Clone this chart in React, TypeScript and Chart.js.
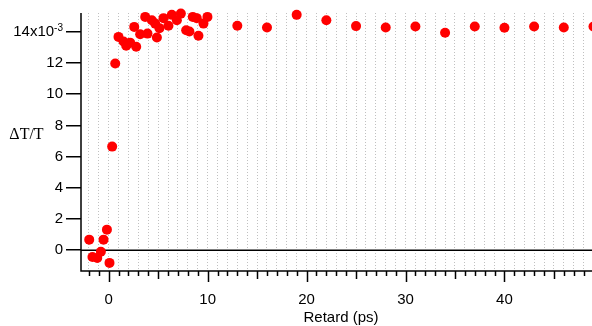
import React, { useEffect, useRef } from "react";
import { Chart, registerables } from "chart.js";

Chart.register(...registerables);

// Pump-probe delay (ps)
const delays = [
  -1.97, -1.64, -1.16, -0.79, -0.52, -0.18, 0.08, 0.35, 0.66, 0.99, 1.5, 1.77,
  2.17, 2.58, 2.78, 3.18, 3.69, 3.92, 4.36, 4.7, 4.87, 5.13, 5.54, 6.04, 6.38,
  6.89, 7.29, 7.83, 8.16, 8.5, 8.9, 9.07, 9.58, 9.98, 13, 16, 19, 22, 25, 28,
  31, 34, 37, 40, 43, 46, 49,
];
// ΔT/T in units of 1e-3
const dTT = [
  0.68, -0.43, -0.49, -0.1, 0.68, 1.32, -0.81, 6.64, 11.97, 13.67, 13.37, 13.1,
  13.3, 14.31, 13.04, 13.84, 14.95, 13.88, 14.74, 14.52, 13.63, 14.23, 14.87,
  14.38, 15.08, 14.74, 15.16, 14.1, 14.01, 14.95, 14.87, 13.74, 14.52, 14.95,
  14.38, 14.27, 15.08, 14.74, 14.36, 14.27, 14.33, 13.93, 14.33, 14.25, 14.33,
  14.27, 14.33,
];
const xLabelStep = 10;
const yTopTick = 14;
const yExponent = "-3";
const xTitle = "Retard (ps)";
const yTitle = "\u0394T/T";

const SANS = "'Liberation Sans', Arial, Helvetica, sans-serif";
const SERIF = "'Liberation Serif', 'Times New Roman', serif";

export default function App() {
  const ref = useRef<HTMLCanvasElement>(null);

  useEffect(() => {
    document.body.style.margin = "0";
    const igor = {
      id: "igor",
      beforeDatasetsDraw(chart: any) {
        const { ctx, chartArea, scales } = chart;
        const y0 = scales.y.getPixelForValue(0);
        ctx.save();
        ctx.strokeStyle = "#000";
        ctx.lineWidth = 1.5;
        ctx.beginPath();
        ctx.moveTo(chartArea.left, y0);
        ctx.lineTo(chartArea.right, y0);
        ctx.stroke();
        ctx.restore();
      },
      afterDraw(chart: any) {
        const { ctx, chartArea, scales } = chart;
        const xs = scales.x;
        const ys = scales.y;
        ctx.save();
        ctx.strokeStyle = "#000";
        ctx.lineWidth = 1.5;
        // axes
        ctx.beginPath();
        ctx.moveTo(chartArea.left, chartArea.top);
        ctx.lineTo(chartArea.left, chartArea.bottom);
        ctx.lineTo(chartArea.right, chartArea.bottom);
        ctx.stroke();
        // x ticks of varying length
        ctx.beginPath();
        for (let v = Math.ceil(xs.min); v <= Math.floor(xs.max); v++) {
          const len = v % 10 === 0 ? 11 : v % 5 === 0 ? 8 : 5;
          const px = Math.round(xs.getPixelForValue(v)) + 0.5;
          ctx.moveTo(px, chartArea.bottom);
          ctx.lineTo(px, chartArea.bottom + len);
        }
        ctx.stroke();
        // top y label with exponent
        const yy = ys.getPixelForValue(yTopTick);
        const right = chartArea.left - 18;
        ctx.fillStyle = "#000";
        ctx.font = `10px ${SANS}`;
        const supW = ctx.measureText(yExponent).width;
        ctx.textAlign = "left";
        ctx.textBaseline = "alphabetic";
        ctx.fillText(yExponent, right - supW, yy - 0.5);
        ctx.font = `15px ${SANS}`;
        ctx.textAlign = "right";
        ctx.textBaseline = "middle";
        ctx.fillText(`${yTopTick}x10`, right - supW, yy);
        // titles
        ctx.font = `16px ${SERIF}`;
        ctx.textAlign = "center";
        ctx.fillText(yTitle, 26.5, 135);
        ctx.font = `15px ${SANS}`;
        ctx.fillText(xTitle, 341, 318);
        ctx.restore();
      },
    };

    const chart = new Chart(ref.current as HTMLCanvasElement, {
      type: "scatter",
      data: {
        datasets: [
          {
            data: delays.map((x, i) => ({ x, y: dTT[i] })),
            backgroundColor: "#ff0000",
            borderColor: "#ff0000",
            borderWidth: 0,
            pointRadius: 5,
            pointHoverRadius: 5,
            clip: false,
          } as any,
        ],
      },
      options: {
        animation: false,
        responsive: false,
        devicePixelRatio: 1,
        events: [],
        layout: { padding: { top: 13, left: 0, right: 0, bottom: 0 }, autoPadding: false },
        plugins: { legend: { display: false }, tooltip: { enabled: false } },
        scales: {
          x: {
            type: "linear",
            min: -2.8,
            max: 48.85,
            afterFit: (s: any) => {
              s.height = 55;
              s.paddingLeft = 0;
              s.paddingRight = 0;
            },
            ticks: {
              stepSize: 1,
              includeBounds: false,
              autoSkip: false,
              maxRotation: 0,
              callback: (v: any) => (Number(v) % xLabelStep === 0 ? String(Number(v)) : ""),
              font: { family: SANS, size: 15 },
              color: "#000",
              padding: 20,
            },
            grid: { color: "#c0c0c0", lineWidth: 1, drawTicks: false },
            border: { display: false, dash: [1, 2] },
          },
          y: {
            type: "linear",
            min: -1.33,
            max: 15.2,
            afterFit: (s: any) => {
              s.width = 81;
              s.paddingTop = 0;
              s.paddingBottom = 0;
            },
            ticks: {
              stepSize: 2,
              includeBounds: false,
              callback: (v: any) => (Number(v) === yTopTick ? "" : String(Number(v))),
              font: { family: SANS, size: 15 },
              color: "#000",
              padding: 3,
            },
            grid: {
              drawOnChartArea: false,
              drawTicks: true,
              tickLength: 15,
              color: "#000",
              lineWidth: 1.5,
            },
            border: { display: false },
          },
        },
      } as any,
      plugins: [igor],
    });
    return () => chart.destroy();
  }, []);

  return (
    <div style={{ position: "fixed", left: 0, top: 0, width: 592, height: 326 }}>
      <canvas ref={ref} width={592} height={326} style={{ width: 592, height: 326, display: "block" }} />
    </div>
  );
}
